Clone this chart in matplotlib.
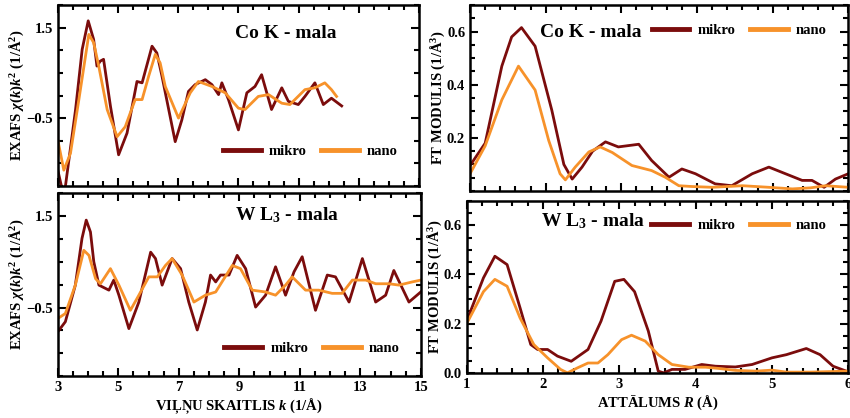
import matplotlib
matplotlib.use('Agg')
import matplotlib.pyplot as plt
from matplotlib.ticker import MultipleLocator, FixedLocator

plt.rcParams['font.family'] = ['Liberation Serif', 'DejaVu Serif']
plt.rcParams['font.weight'] = 'bold'
plt.rcParams['mathtext.fontset'] = 'custom'
plt.rcParams['mathtext.rm'] = 'Liberation Serif:bold'
plt.rcParams['mathtext.it'] = 'Liberation Serif:italic:bold'
plt.rcParams['mathtext.bf'] = 'Liberation Serif:bold'

MIKRO = '#7b0c0c'
NANO = '#f7922a'

# EXAFS, Co K edge
co_k_mikro = [3.0, 3.14, 3.25, 3.59, 3.81, 4.01, 4.19, 4.30, 4.41, 4.52, 4.75, 5.02, 5.30, 5.63,
              5.80, 6.13, 6.29, 6.46, 6.90, 7.12, 7.34, 7.56, 7.90, 8.12, 8.34, 8.45, 8.67, 9.00,
              9.28, 9.55, 9.77, 10.10, 10.44, 10.66, 10.99, 11.21, 11.54, 11.82, 12.09, 12.43]
co_chi_mikro = [-1.65, -2.06, -2.02, -0.31, 1.02, 1.65, 1.24, 0.65, 0.76, 0.80, -0.24, -1.31, -0.83, 0.31,
                0.28, 1.09, 0.94, 0.43, -1.02, -0.54, 0.09, 0.24, 0.35, 0.24, 0.02, 0.28, -0.09, -0.76,
                0.06, 0.20, 0.46, -0.31, 0.17, -0.13, -0.20, -0.02, 0.28, -0.20, -0.06, -0.23]
co_k_nano = [3.0, 3.20, 3.42, 3.70, 4.03, 4.19, 4.36, 4.64, 4.97, 5.24, 5.57, 5.80, 6.02, 6.24,
             6.40, 6.57, 7.01, 7.40, 7.67, 8.12, 8.56, 9.00, 9.22, 9.66, 10.0, 10.44, 10.71, 11.21,
             11.54, 11.87, 12.09, 12.26]
co_chi_nano = [-0.98, -1.65, -1.28, -0.09, 1.35, 1.17, 0.65, -0.31, -0.91, -0.69, -0.09, -0.09, 0.43, 0.91,
               0.72, 0.20, -0.50, 0.06, 0.31, 0.20, 0.06, -0.28, -0.31, -0.02, 0.02, -0.17, -0.20, 0.13,
               0.17, 0.28, 0.13, -0.02]

# EXAFS, W L3 edge
w_k_mikro = [3.0, 3.25, 3.58, 3.80, 3.94, 4.08, 4.19, 4.36, 4.69, 4.85, 5.02, 5.35, 5.68, 6.07,
             6.23, 6.45, 6.78, 7.06, 7.33, 7.61, 7.88, 8.05, 8.22, 8.38, 8.66, 8.93, 9.21, 9.54,
             9.87, 10.20, 10.53, 10.81, 11.08, 11.52, 11.91, 12.18, 12.63, 13.07, 13.51, 13.84,
             14.11, 14.61, 15.0]
w_chi_mikro = [-1.03, -0.81, -0.01, 1.01, 1.41, 1.15, 0.50, -0.01, -0.12, 0.10, -0.23, -0.96, -0.38, 0.71,
               0.57, -0.01, 0.57, 0.35, -0.38, -0.99, -0.38, 0.21, 0.06, 0.21, 0.21, 0.64, 0.35, -0.49,
               -0.23, 0.39, -0.23, 0.28, 0.61, -0.56, 0.21, 0.17, -0.38, 0.57, -0.38, -0.23,
               0.31, -0.38, -0.16]
w_k_nano = [3.0, 3.25, 3.58, 3.86, 4.03, 4.25, 4.41, 4.74, 5.02, 5.40, 5.68, 6.01, 6.29, 6.56,
            6.78, 7.11, 7.50, 7.88, 8.22, 8.77, 9.04, 9.43, 9.87, 10.20, 10.53, 10.75, 11.19, 11.63,
            12.07, 12.40, 12.74, 13.18, 13.51, 13.95, 14.28, 14.72, 15.0]
w_chi_nano = [-0.74, -0.63, -0.01, 0.75, 0.64, 0.13, 0.02, 0.35, -0.01, -0.56, -0.23, 0.17, 0.17, 0.42,
              0.57, 0.21, -0.38, -0.23, -0.16, 0.42, 0.35, -0.12, -0.16, -0.23, -0.01, 0.17, -0.12, -0.12,
              -0.19, -0.19, 0.10, 0.10, 0.02, 0.02, -0.01, 0.06, 0.10]

# FT modulus, Co K edge
co_r_mikro = [1.0, 1.2, 1.42, 1.55, 1.68, 1.86, 2.08, 2.24, 2.35, 2.48, 2.62, 2.79, 2.96, 3.23,
              3.4, 3.63, 3.8, 3.98, 4.24, 4.46, 4.73, 4.95, 5.17, 5.39, 5.52, 5.68, 5.83, 6.0]
co_ft_mikro = [0.096, 0.18, 0.47, 0.58, 0.615, 0.545, 0.305, 0.10, 0.045, 0.09, 0.15, 0.185, 0.166, 0.176,
               0.115, 0.052, 0.083, 0.065, 0.027, 0.02, 0.065, 0.09, 0.065, 0.04, 0.04, 0.014, 0.045, 0.065]
co_r_nano = [1.0, 1.2, 1.42, 1.64, 1.86, 2.04, 2.19, 2.26, 2.39, 2.57, 2.72, 2.88, 3.14, 3.4,
             3.58, 3.76, 3.93, 4.2, 4.6, 4.95, 5.26, 5.5, 5.7, 6.0]
co_ft_nano = [0.065, 0.17, 0.343, 0.47, 0.38, 0.19, 0.065, 0.042, 0.09, 0.147, 0.166, 0.145, 0.096, 0.077,
              0.052, 0.02, 0.017, 0.014, 0.02, 0.014, 0.008, 0.012, 0.02, 0.014]

# FT modulus, W L3 edge
w_r_mikro = [1.0, 1.22, 1.37, 1.53, 1.7, 1.84, 1.93, 2.06, 2.19, 2.37, 2.59, 2.76, 2.94, 3.06,
             3.2, 3.38, 3.51, 3.58, 3.69, 3.86, 4.08, 4.26, 4.52, 4.74, 5.0, 5.19, 5.45, 5.63, 5.8, 6.0]
w_ft_mikro = [0.21, 0.386, 0.474, 0.44, 0.264, 0.115, 0.095, 0.095, 0.068, 0.047, 0.095, 0.21, 0.372, 0.38,
              0.33, 0.17, 0.007, 0.0, 0.014, 0.014, 0.034, 0.027, 0.024, 0.034, 0.061, 0.074, 0.099, 0.074, 0.027, 0.004]
w_r_nano = [1.0, 1.22, 1.37, 1.53, 1.7, 1.88, 2.06, 2.23, 2.32, 2.45, 2.59, 2.72, 2.85, 3.03,
            3.16, 3.34, 3.51, 3.69, 3.91, 4.13, 4.3, 4.52, 4.79, 5.0, 5.19, 5.5, 6.0]
w_ft_nano = [0.2, 0.33, 0.38, 0.352, 0.223, 0.115, 0.061, 0.014, 0.0, 0.02, 0.04, 0.04, 0.074, 0.135,
             0.153, 0.129, 0.074, 0.034, 0.023, 0.023, 0.018, 0.01, 0.007, 0.011, 0.003, 0.003, 0.007]

k_ticks = [3, 5, 7, 9, 11, 13, 15]

fig = plt.figure(figsize=(8.5, 4.18), dpi=100)
ax1 = fig.add_axes([0.068, 0.555, 0.425, 0.433])
ax2 = fig.add_axes([0.068, 0.100, 0.427, 0.438])
ax3 = fig.add_axes([0.553, 0.543, 0.445, 0.445])
ax4 = fig.add_axes([0.549, 0.108, 0.449, 0.412])

def style(ax):
    for s in ax.spines.values():
        s.set_linewidth(1.8)
    ax.tick_params(which='both', direction='in', top=True, right=True, labelsize=10.5, width=1.5)
    ax.tick_params(which='major', length=6)
    ax.tick_params(which='minor', length=3.5)

def draw(ax, xm, ym, xn, yn, title, tx, ty, legloc, legpos):
    ax.plot(xm, ym, color=MIKRO, lw=2.0, solid_joinstyle='round')
    ax.plot(xn, yn, color=NANO, lw=2.0, solid_joinstyle='round')
    ax.text(tx, ty, title, transform=ax.transAxes, fontsize=14, fontweight='bold', ha='center', va='center')
    h1, = ax.plot([], [], color=MIKRO, lw=3.5, label='mikro')
    h2, = ax.plot([], [], color=NANO, lw=3.5, label='nano')
    ax.legend(handles=[h1, h2], ncol=2, loc=legloc, bbox_to_anchor=legpos, frameon=False,
              handlelength=2.6, columnspacing=1.0, handletextpad=0.55, borderpad=0.2,
              prop={'weight': 'bold', 'size': 10.5})
    style(ax)

ylab_exafs = r'EXAFS $\chi(k)k^2$ (1/Å$^2$)'
ylab_ft = r'FT MODULIS (1/Å$^3$)'

for ax in (ax1, ax2):
    ax.set_xlim(3, 15)
    ax.set_ylim(-2, 2)
    ax.xaxis.set_major_locator(FixedLocator(k_ticks))
    ax.xaxis.set_minor_locator(MultipleLocator(0.5))
    ax.yaxis.set_major_locator(FixedLocator([-0.5, 1.5]))
    ax.yaxis.set_minor_locator(MultipleLocator(0.5))
    ax.set_ylabel(ylab_exafs, fontsize=10.5, fontweight='bold', labelpad=0)

draw(ax1, co_k_mikro, co_chi_mikro, co_k_nano, co_chi_nano, 'Co K - mala', 0.63, 0.845,
     'center right', (0.97, 0.19))
draw(ax2, w_k_mikro, w_chi_mikro, w_k_nano, w_chi_nano, r'W L$_3$ - mala', 0.63, 0.88,
     'center right', (0.97, 0.15))
ax1.tick_params(labelbottom=False)
ax2.set_xlabel(r'VIĻŅU SKAITLIS $k$ (1/Å)', fontsize=10.5, fontweight='bold', labelpad=2)

for ax in (ax3, ax4):
    ax.set_xlim(1, 6)
    ax.set_ylim(0, 0.7)
    ax.xaxis.set_major_locator(MultipleLocator(1))
    ax.xaxis.set_minor_locator(MultipleLocator(0.2))
    ax.yaxis.set_minor_locator(MultipleLocator(0.05))
    ax.yaxis.set_major_formatter(plt.FormatStrFormatter('%.1f'))
    ax.set_ylabel(ylab_ft, fontsize=10.5, fontweight='bold', labelpad=0)

ax3.yaxis.set_major_locator(FixedLocator([0.2, 0.4, 0.6]))
ax4.yaxis.set_major_locator(FixedLocator([0.0, 0.2, 0.4, 0.6]))

draw(ax3, co_r_mikro, co_ft_mikro, co_r_nano, co_ft_nano, 'Co K - mala', 0.32, 0.85,
     'center right', (0.97, 0.865))
draw(ax4, w_r_mikro, w_ft_mikro, w_r_nano, w_ft_nano, r'W L$_3$ - mala', 0.33, 0.88,
     'center right', (0.97, 0.855))
ax3.tick_params(labelbottom=False)
ax4.set_xlabel(r'ATTĀLUMS $R$ (Å)', fontsize=10.5, fontweight='bold', labelpad=2)

fig.savefig('out.png', dpi=100)
